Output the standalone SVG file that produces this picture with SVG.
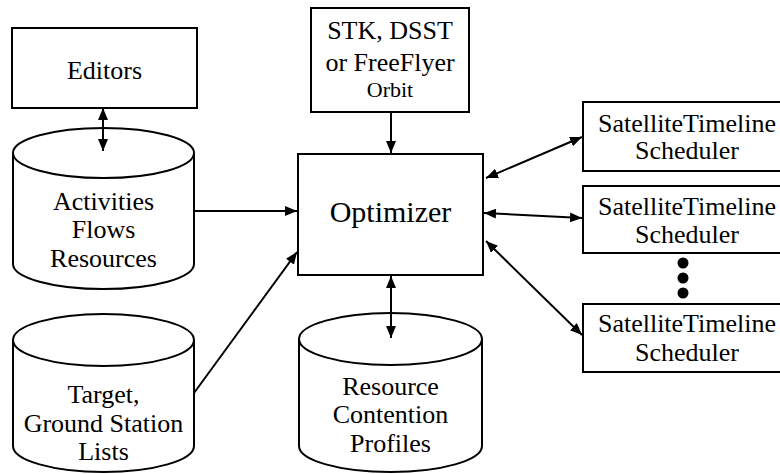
<svg xmlns="http://www.w3.org/2000/svg" width="780" height="474" viewBox="0 0 780 474">
  <defs>
    <marker id="arrow" markerUnits="userSpaceOnUse" viewBox="0 0 12 10" refX="12" refY="5" markerWidth="12" markerHeight="10" orient="auto-start-reverse">
      <path d="M0,0 L12,5 L0,10 Z" fill="#000"/>
    </marker>
  </defs>
  <rect width="780" height="474" fill="#fff"/>

  <!-- boxes and data stores -->
  <g id="editors">
    <rect x="12" y="28" width="185" height="80" fill="#fff" stroke="#000" stroke-width="2"/>
    <text x="104.5" y="79" font-family="Times New Roman" font-size="26" text-anchor="middle">Editors</text>
  </g>

  <g id="activities-db">
    <path d="M13,153 A90.5,25 0 0 1 194,153 L194,264 A90.5,25 0 0 1 13,264 Z" fill="#fff" stroke="#000" stroke-width="2"/>
    <path d="M13,153 A90.5,25 0 0 0 194,153" fill="none" stroke="#000" stroke-width="2"/>
    <text x="103.5" y="210" font-family="Times New Roman" font-size="26" text-anchor="middle">Activities</text>
    <text x="103.5" y="238" font-family="Times New Roman" font-size="26" text-anchor="middle">Flows</text>
    <text x="103.5" y="267" font-family="Times New Roman" font-size="26" text-anchor="middle">Resources</text>
  </g>

  <g id="targets-db">
    <path d="M13,340 A90.5,26 0 0 1 194,340 L194,446 A90.5,26 0 0 1 13,446 Z" fill="#fff" stroke="#000" stroke-width="2"/>
    <path d="M13,340 A90.5,26 0 0 0 194,340" fill="none" stroke="#000" stroke-width="2"/>
    <text x="103.5" y="403" font-family="Times New Roman" font-size="26" text-anchor="middle">Target,</text>
    <text x="103.5" y="432" font-family="Times New Roman" font-size="26" text-anchor="middle">Ground Station</text>
    <text x="103.5" y="460" font-family="Times New Roman" font-size="26" text-anchor="middle">Lists</text>
  </g>

  <g id="orbit-source">
    <rect x="311" y="8" width="158" height="104" fill="#fff" stroke="#000" stroke-width="2"/>
    <text x="390" y="39" font-family="Times New Roman" font-size="26" text-anchor="middle">STK, DSST</text>
    <text x="390" y="71" font-family="Times New Roman" font-size="26" text-anchor="middle">or FreeFlyer</text>
    <text x="390" y="97" font-family="Times New Roman" font-size="22" text-anchor="middle">Orbit</text>
  </g>

  <g id="optimizer">
    <rect x="298" y="154" width="185" height="121" fill="#fff" stroke="#000" stroke-width="2"/>
    <text x="390.5" y="222" font-family="Times New Roman" font-size="30" text-anchor="middle">Optimizer</text>
  </g>

  <g id="contention-db">
    <path d="M299,339 A91.5,26 0 0 1 482,339 L482,446 A91.5,26 0 0 1 299,446 Z" fill="#fff" stroke="#000" stroke-width="2"/>
    <path d="M299,339 A91.5,26 0 0 0 482,339" fill="none" stroke="#000" stroke-width="2"/>
    <text x="390.5" y="395" font-family="Times New Roman" font-size="26" text-anchor="middle">Resource</text>
    <text x="390.5" y="423" font-family="Times New Roman" font-size="26" text-anchor="middle">Contention</text>
    <text x="390.5" y="452" font-family="Times New Roman" font-size="26" text-anchor="middle">Profiles</text>
  </g>

  <g id="scheduler-1">
    <rect x="583" y="102" width="208" height="69" fill="#fff" stroke="#000" stroke-width="2"/>
    <text x="687" y="132" font-family="Times New Roman" font-size="26" text-anchor="middle">SatelliteTimeline</text>
    <text x="687" y="159" font-family="Times New Roman" font-size="26" text-anchor="middle">Scheduler</text>
  </g>

  <g id="scheduler-2">
    <rect x="583" y="186" width="208" height="67" fill="#fff" stroke="#000" stroke-width="2"/>
    <text x="687" y="215" font-family="Times New Roman" font-size="26" text-anchor="middle">SatelliteTimeline</text>
    <text x="687" y="243" font-family="Times New Roman" font-size="26" text-anchor="middle">Scheduler</text>
  </g>

  <g id="ellipsis" fill="#000">
    <circle cx="683" cy="263" r="5.5"/>
    <circle cx="683" cy="278" r="5.5"/>
    <circle cx="683" cy="293" r="5.5"/>
  </g>

  <g id="scheduler-n">
    <rect x="583" y="304" width="208" height="68" fill="#fff" stroke="#000" stroke-width="2"/>
    <text x="687" y="332" font-family="Times New Roman" font-size="26" text-anchor="middle">SatelliteTimeline</text>
    <text x="687" y="361" font-family="Times New Roman" font-size="26" text-anchor="middle">Scheduler</text>
  </g>

  <!-- links between the parts -->
  <g id="connectors" fill="none" stroke="#000" stroke-width="2">
    <line x1="103" y1="108" x2="103" y2="151" marker-start="url(#arrow)" marker-end="url(#arrow)"/>
    <line x1="194" y1="211" x2="297" y2="211" marker-end="url(#arrow)"/>
    <line x1="194" y1="393" x2="297" y2="252" marker-end="url(#arrow)"/>
    <line x1="391" y1="112" x2="391" y2="153" marker-end="url(#arrow)"/>
    <line x1="391" y1="276" x2="391" y2="338" marker-start="url(#arrow)" marker-end="url(#arrow)"/>
    <line x1="486" y1="178" x2="582" y2="137" marker-start="url(#arrow)" marker-end="url(#arrow)"/>
    <line x1="484" y1="213" x2="582" y2="218" marker-start="url(#arrow)" marker-end="url(#arrow)"/>
    <line x1="486" y1="241" x2="582" y2="335" marker-start="url(#arrow)" marker-end="url(#arrow)"/>
  </g>
</svg>
